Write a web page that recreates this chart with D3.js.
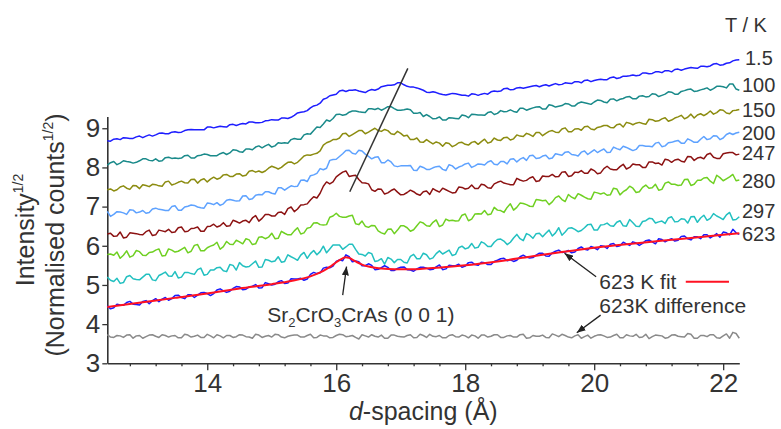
<!DOCTYPE html>
<html>
<head>
<meta charset="utf-8">
<script src="https://cdn.jsdelivr.net/npm/d3@7"></script>
<style>
  html, body { margin: 0; padding: 0; background: #fff; }
  svg { display: block; font-family: "Liberation Sans", Arial, Helvetica, sans-serif; }
</style>
</head>
<body>
<svg id="chart" width="781" height="429"></svg>
<script>
// Sampling grid: d-spacing in Å, 0.05 Å steps from 12.45 to 22.25
const dSpacing = d3.range(197).map(i => +(12.45 + 0.05 * i).toFixed(2));

// Temperatures (K) labelled at the right-hand end of each trace
const temperatures = ["1.5", "100", "150", "200", "247", "280", "297", "623"];

// Square-root intensities, offset per temperature
const int1_5K = [
  8.68,8.67,8.72,8.73,8.71,8.76,8.75,8.74,8.74,8.78,8.80,8.76,8.80,8.83,8.80,8.83,8.87,8.88,8.86,8.86,
  8.90,8.91,8.89,8.90,8.94,8.96,8.97,8.96,8.96,8.96,8.96,9.03,9.03,9.01,9.03,9.05,9.04,9.03,9.09,9.10,
  9.07,9.10,9.12,9.11,9.16,9.16,9.14,9.14,9.15,9.19,9.20,9.22,9.21,9.21,9.26,9.26,9.25,9.28,9.33,9.39,
  9.41,9.42,9.45,9.52,9.57,9.59,9.64,9.74,9.77,9.83,9.85,9.87,9.95,9.97,9.94,9.97,9.97,9.98,9.95,9.93,
  9.91,9.96,9.99,9.97,10.00,10.06,10.08,10.10,10.10,10.11,10.16,10.16,10.11,10.07,10.05,10.05,10.03,10.00,9.97,9.92,
  9.91,9.93,9.91,9.88,9.86,9.85,9.87,9.89,9.88,9.86,9.84,9.84,9.82,9.88,9.87,9.84,9.87,9.89,9.87,9.93,
  9.95,9.94,9.95,10.01,10.02,9.98,9.99,10.03,10.04,10.02,10.04,10.06,10.08,10.09,10.06,10.09,10.11,10.08,10.11,10.14,
  10.11,10.12,10.16,10.15,10.14,10.19,10.19,10.16,10.22,10.23,10.19,10.22,10.24,10.25,10.24,10.24,10.29,10.31,10.27,10.29,
  10.33,10.33,10.34,10.36,10.34,10.35,10.41,10.41,10.39,10.40,10.44,10.44,10.42,10.47,10.47,10.44,10.50,10.51,10.48,10.51,
  10.53,10.55,10.54,10.53,10.58,10.58,10.57,10.59,10.64,10.65,10.61,10.62,10.66,10.67,10.72,10.74,10.75];

const int100K = [
  8.06,8.12,8.15,8.07,8.11,8.17,8.15,8.14,8.11,8.13,8.17,8.22,8.22,8.18,8.17,8.22,8.16,8.17,8.25,8.26,
  8.23,8.24,8.23,8.24,8.30,8.31,8.24,8.24,8.30,8.31,8.34,8.33,8.30,8.30,8.30,8.35,8.38,8.33,8.37,8.45,
  8.44,8.40,8.39,8.47,8.47,8.45,8.52,8.55,8.50,8.55,8.59,8.52,8.55,8.63,8.62,8.63,8.62,8.71,8.74,8.72,
  8.72,8.83,8.86,8.85,8.94,9.03,9.02,9.11,9.21,9.18,9.25,9.35,9.36,9.33,9.35,9.41,9.44,9.44,9.42,9.41,
  9.40,9.50,9.50,9.48,9.51,9.46,9.50,9.55,9.55,9.50,9.46,9.46,9.47,9.49,9.47,9.38,9.38,9.40,9.30,9.35,
  9.30,9.24,9.25,9.29,9.21,9.21,9.27,9.26,9.25,9.24,9.34,9.32,9.27,9.36,9.35,9.34,9.34,9.33,9.40,9.42,
  9.35,9.38,9.45,9.42,9.43,9.47,9.43,9.41,9.51,9.51,9.46,9.49,9.52,9.54,9.55,9.49,9.49,9.60,9.58,9.54,
  9.56,9.58,9.63,9.62,9.57,9.57,9.64,9.67,9.65,9.63,9.61,9.67,9.72,9.71,9.67,9.65,9.74,9.75,9.70,9.74,
  9.76,9.80,9.81,9.75,9.75,9.82,9.83,9.80,9.81,9.88,9.87,9.81,9.84,9.87,9.93,9.92,9.87,9.87,9.94,9.96,
  9.99,10.00,9.94,9.95,9.98,10.00,10.03,9.97,10.01,10.07,10.07,10.06,10.03,10.13,10.13,10.00,9.97];

const int150K = [
  7.43,7.45,7.40,7.43,7.50,7.53,7.47,7.44,7.54,7.53,7.46,7.56,7.54,7.51,7.57,7.56,7.53,7.52,7.63,7.65,
  7.55,7.58,7.62,7.65,7.61,7.60,7.69,7.70,7.60,7.68,7.71,7.63,7.70,7.75,7.70,7.73,7.81,7.82,7.77,7.77,
  7.83,7.84,7.78,7.80,7.90,7.92,7.88,7.91,7.87,7.91,7.98,8.03,8.00,7.96,8.00,8.07,8.13,8.14,8.09,8.13,
  8.21,8.29,8.32,8.31,8.34,8.36,8.42,8.57,8.63,8.66,8.71,8.71,8.75,8.86,8.87,8.79,8.84,8.89,8.94,8.94,
  8.86,8.90,8.95,9.00,8.94,8.92,8.97,8.94,8.86,8.84,8.92,8.87,8.80,8.82,8.71,8.71,8.75,8.65,8.64,8.71,
  8.65,8.60,8.65,8.62,8.54,8.63,8.61,8.53,8.57,8.63,8.64,8.59,8.57,8.64,8.66,8.59,8.66,8.72,8.62,8.65,
  8.75,8.70,8.69,8.76,8.77,8.70,8.73,8.83,8.80,8.79,8.87,8.84,8.79,8.89,8.89,8.81,8.87,8.92,8.94,8.90,
  8.89,8.98,9.01,8.91,8.91,8.98,8.99,8.95,9.04,9.05,8.98,8.96,9.02,9.04,9.07,9.07,9.02,9.01,9.09,9.11,
  9.03,9.15,9.13,9.09,9.13,9.15,9.12,9.10,9.23,9.22,9.18,9.19,9.24,9.27,9.18,9.21,9.26,9.29,9.33,9.24,
  9.28,9.36,9.26,9.34,9.37,9.32,9.37,9.44,9.36,9.40,9.47,9.46,9.39,9.37,9.45,9.46,9.48];

const int200K = [
  6.88,6.75,6.80,6.87,6.86,6.84,6.80,6.92,6.91,6.84,6.86,6.90,6.83,6.85,6.94,6.96,6.93,6.92,6.90,6.90,
  7.00,7.02,6.91,6.91,6.99,7.01,7.04,7.03,6.99,6.97,6.96,7.09,7.08,7.05,7.10,7.03,7.07,7.16,7.18,7.16,
  7.14,7.15,7.27,7.28,7.18,7.20,7.29,7.31,7.30,7.38,7.38,7.34,7.32,7.48,7.48,7.42,7.48,7.53,7.51,7.52,
  7.67,7.68,7.64,7.79,7.81,7.85,7.97,7.94,7.98,8.18,8.20,8.21,8.28,8.35,8.43,8.44,8.36,8.34,8.44,8.42,
  8.34,8.28,8.22,8.26,8.27,8.12,8.12,8.19,8.14,8.04,8.02,8.04,8.04,8.04,8.05,7.93,7.92,8.03,8.00,7.95,
  7.95,7.99,8.02,8.03,7.95,7.92,8.07,8.04,7.96,8.01,8.04,8.09,8.11,8.00,8.04,8.09,8.08,8.06,8.14,8.17,
  8.08,8.07,8.15,8.15,8.09,8.21,8.22,8.14,8.21,8.25,8.18,8.30,8.31,8.23,8.24,8.29,8.31,8.22,8.24,8.35,
  8.33,8.31,8.39,8.40,8.33,8.32,8.29,8.39,8.42,8.33,8.39,8.45,8.38,8.43,8.47,8.38,8.39,8.52,8.48,8.45,
  8.54,8.51,8.47,8.43,8.46,8.56,8.56,8.54,8.54,8.53,8.62,8.64,8.53,8.55,8.63,8.64,8.67,8.69,8.62,8.62,
  8.73,8.69,8.64,8.64,8.72,8.79,8.71,8.73,8.81,8.80,8.71,8.75,8.84,8.88,8.84,8.88,8.90];

const int247K = [
  6.30,6.32,6.24,6.25,6.35,6.20,6.22,6.33,6.32,6.31,6.29,6.28,6.36,6.40,6.26,6.28,6.40,6.38,6.36,6.42,
  6.34,6.35,6.46,6.48,6.36,6.37,6.44,6.45,6.48,6.37,6.37,6.49,6.50,6.55,6.48,6.51,6.59,6.50,6.51,6.65,
  6.62,6.58,6.63,6.65,6.59,6.71,6.77,6.63,6.70,6.80,6.80,6.76,6.76,6.85,6.86,6.80,6.95,6.99,6.87,6.94,
  7.04,7.05,7.07,7.17,7.25,7.22,7.34,7.52,7.63,7.58,7.63,7.76,7.82,7.88,7.91,7.77,7.79,7.80,7.69,7.61,
  7.60,7.58,7.43,7.39,7.45,7.44,7.32,7.35,7.41,7.45,7.37,7.30,7.31,7.36,7.42,7.38,7.32,7.29,7.38,7.40,
  7.31,7.46,7.41,7.37,7.47,7.43,7.39,7.35,7.36,7.50,7.49,7.45,7.47,7.55,7.46,7.46,7.57,7.55,7.48,7.47,
  7.58,7.62,7.65,7.60,7.58,7.56,7.56,7.72,7.68,7.65,7.67,7.73,7.76,7.64,7.66,7.78,7.77,7.77,7.82,7.76,
  7.77,7.88,7.89,7.77,7.79,7.88,7.87,7.92,7.85,7.85,7.96,7.92,7.84,7.86,7.97,8.03,7.96,7.94,7.94,8.02,
  8.08,7.96,8.00,8.09,8.07,8.07,8.00,8.00,8.14,8.14,8.10,8.11,8.06,8.21,8.19,8.13,8.19,8.21,8.16,8.14,
  8.28,8.27,8.18,8.24,8.26,8.22,8.33,8.36,8.26,8.23,8.23,8.35,8.37,8.38,8.38,8.32,8.34];

const int280K = [
  5.78,5.79,5.76,5.84,5.68,5.76,5.87,5.71,5.75,5.88,5.85,5.76,5.75,5.83,5.84,5.89,5.92,5.74,5.75,5.92,
  5.89,5.84,5.86,5.91,5.96,5.82,5.86,6.01,6.03,5.87,5.87,5.95,5.99,6.02,6.09,5.91,5.98,6.11,6.04,6.03,
  6.14,6.10,6.05,6.18,6.15,6.03,6.05,6.22,6.23,6.18,6.22,6.32,6.18,6.19,6.37,6.32,6.28,6.28,6.38,6.46,
  6.30,6.33,6.45,6.47,6.58,6.59,6.54,6.53,6.54,6.73,6.76,6.83,6.75,6.73,6.73,6.76,6.78,6.56,6.54,6.63,
  6.50,6.47,6.52,6.51,6.38,6.33,6.30,6.42,6.43,6.31,6.40,6.51,6.51,6.46,6.37,6.41,6.51,6.61,6.58,6.51,
  6.50,6.60,6.66,6.49,6.53,6.68,6.64,6.65,6.63,6.64,6.78,6.81,6.64,6.68,6.81,6.82,6.81,6.90,6.79,6.81,
  6.98,6.91,6.90,6.85,6.98,7.07,6.91,6.98,7.09,7.08,7.05,7.01,7.00,7.18,7.17,7.15,7.16,7.05,7.12,7.23,
  7.27,7.18,7.13,7.31,7.24,7.20,7.33,7.29,7.24,7.20,7.19,7.37,7.35,7.32,7.35,7.29,7.30,7.47,7.45,7.30,
  7.38,7.43,7.52,7.47,7.36,7.38,7.49,7.55,7.47,7.48,7.57,7.42,7.44,7.60,7.63,7.57,7.57,7.54,7.55,7.69,
  7.70,7.54,7.57,7.67,7.67,7.73,7.74,7.65,7.59,7.80,7.74,7.66,7.71,7.76,7.82,7.66,7.68];

const int297K = [
  5.20,5.12,5.09,5.17,5.04,5.06,5.21,5.24,5.16,5.14,5.13,5.20,5.27,5.27,5.13,5.11,5.24,5.28,5.33,5.23,
  5.22,5.34,5.18,5.20,5.32,5.32,5.29,5.27,5.39,5.43,5.25,5.27,5.38,5.38,5.44,5.45,5.36,5.34,5.52,5.50,
  5.38,5.57,5.49,5.46,5.47,5.54,5.61,5.45,5.46,5.65,5.63,5.59,5.61,5.72,5.58,5.60,5.77,5.72,5.68,5.63,
  5.76,5.83,5.68,5.80,5.88,5.77,5.85,5.99,5.82,5.92,6.02,6.02,6.02,5.91,5.97,6.04,6.04,5.91,5.79,5.78,
  5.74,5.83,5.80,5.60,5.62,5.67,5.53,5.70,5.66,5.57,5.65,5.65,5.58,5.56,5.73,5.78,5.67,5.67,5.81,5.77,
  5.66,5.69,5.80,5.87,5.79,5.84,5.89,5.75,5.78,5.95,5.99,5.92,5.95,6.06,5.94,5.96,6.10,6.06,5.98,5.98,
  6.09,6.16,6.17,6.12,6.03,6.09,6.20,6.29,6.18,6.13,6.31,6.27,6.19,6.31,6.32,6.23,6.32,6.40,6.25,6.33,
  6.46,6.27,6.35,6.45,6.46,6.42,6.36,6.39,6.46,6.54,6.55,6.40,6.40,6.53,6.54,6.58,6.51,6.50,6.60,6.64,
  6.51,6.50,6.67,6.59,6.50,6.49,6.62,6.64,6.70,6.69,6.58,6.61,6.63,6.57,6.71,6.74,6.61,6.62,6.69,6.68,
  6.58,6.74,6.75,6.60,6.71,6.78,6.65,6.70,6.82,6.76,6.72,6.67,6.79,6.85,6.66,6.67,6.74];

const int623K = [
  4.47,4.39,4.42,4.51,4.49,4.48,4.55,4.58,4.51,4.50,4.49,4.58,4.60,4.52,4.60,4.65,4.57,4.64,4.68,4.61,
  4.65,4.73,4.74,4.68,4.65,4.75,4.75,4.68,4.74,4.80,4.81,4.78,4.73,4.78,4.87,4.90,4.85,4.81,4.84,4.91,
  4.96,4.95,4.88,4.89,4.95,4.97,5.01,4.92,4.93,5.06,5.03,5.00,5.02,5.08,5.11,5.04,5.05,5.16,5.15,5.15,
  5.17,5.12,5.15,5.27,5.32,5.29,5.31,5.43,5.45,5.44,5.48,5.60,5.64,5.62,5.77,5.72,5.59,5.61,5.59,5.49,
  5.49,5.54,5.50,5.39,5.40,5.44,5.49,5.45,5.37,5.37,5.42,5.45,5.46,5.39,5.38,5.35,5.41,5.45,5.45,5.43,
  5.39,5.40,5.46,5.51,5.39,5.41,5.50,5.49,5.49,5.53,5.45,5.48,5.57,5.58,5.52,5.50,5.58,5.57,5.52,5.52,
  5.60,5.63,5.67,5.68,5.62,5.64,5.60,5.63,5.72,5.76,5.71,5.69,5.70,5.76,5.81,5.81,5.74,5.73,5.82,5.86,
  5.89,5.83,5.84,5.88,5.82,5.84,5.93,5.97,5.91,5.89,5.98,5.95,5.90,6.00,5.99,5.93,6.04,6.06,5.98,6.00,
  6.09,6.05,6.01,6.10,6.07,6.01,6.06,6.13,6.15,6.10,6.05,6.18,6.16,6.10,6.15,6.18,6.12,6.14,6.24,6.25,
  6.18,6.15,6.23,6.23,6.18,6.28,6.28,6.20,6.25,6.31,6.22,6.35,6.33,6.28,6.42,6.33,6.29];

// Fitted profile at 623 K
const fit623K_d = [12.45,13.0,13.5,14.0,14.5,15.0,15.3,15.6,15.8,15.9,16.0,16.1,16.15,16.2,16.3,16.4,16.5,
  16.7,16.9,17.1,17.3,17.5,17.8,18.0,18.5,19.0,19.5,20.0,20.5,21.0,21.5,22.0,22.25];
const fit623K = [4.44,4.56,4.67,4.78,4.91,5.02,5.10,5.22,5.36,5.46,5.58,5.68,5.71,5.69,5.60,5.52,5.47,
  5.42,5.40,5.40,5.41,5.43,5.47,5.50,5.60,5.72,5.84,5.95,6.04,6.12,6.20,6.28,6.32];

// Observed minus fitted at 623 K, shown offset
const diff623K = [
  3.73,3.67,3.66,3.71,3.70,3.66,3.72,3.73,3.64,3.70,3.71,3.64,3.68,3.72,3.73,3.69,3.66,3.73,3.71,3.67,
  3.70,3.71,3.65,3.65,3.74,3.72,3.67,3.69,3.72,3.66,3.66,3.74,3.70,3.65,3.73,3.70,3.65,3.71,3.71,3.66,
  3.68,3.73,3.72,3.68,3.67,3.64,3.74,3.72,3.66,3.69,3.71,3.67,3.74,3.73,3.67,3.65,3.69,3.71,3.72,3.72,
  3.67,3.67,3.71,3.74,3.65,3.66,3.72,3.70,3.70,3.65,3.66,3.71,3.74,3.73,3.68,3.69,3.71,3.66,3.62,3.73,
  3.70,3.67,3.73,3.69,3.67,3.72,3.64,3.64,3.72,3.72,3.69,3.68,3.67,3.71,3.73,3.65,3.66,3.74,3.71,3.66,
  3.74,3.69,3.68,3.71,3.65,3.65,3.71,3.73,3.68,3.67,3.72,3.70,3.65,3.72,3.70,3.64,3.72,3.72,3.67,3.69,
  3.73,3.73,3.66,3.66,3.70,3.71,3.67,3.67,3.73,3.74,3.64,3.65,3.71,3.69,3.69,3.72,3.66,3.65,3.75,3.72,
  3.68,3.74,3.71,3.67,3.65,3.70,3.73,3.64,3.68,3.72,3.64,3.69,3.72,3.73,3.70,3.66,3.67,3.71,3.74,3.65,
  3.65,3.73,3.70,3.69,3.74,3.66,3.67,3.74,3.63,3.68,3.72,3.71,3.70,3.64,3.66,3.72,3.73,3.69,3.68,3.67,
  3.76,3.74,3.64,3.64,3.71,3.71,3.68,3.73,3.73,3.65,3.64,3.70,3.75,3.64,3.79,3.76,3.64];

// Axis ticks
const xTicks = [14, 16, 18, 20, 22];
const xMinorTicks = [12.8,13.2,13.6,14.4,14.8,15.2,15.6,16.4,16.8,17.2,17.6,18.4,18.8,19.2,19.6,20.4,20.8,21.2,21.6];
const yTicks = [3, 4, 5, 6, 7, 8, 9];

// Guide through the shifting (0 0 1) maximum: [d, value] end points
const shiftGuide = [[17.11, 10.53], [16.21, 7.38]];

// ---------------------------------------------------------------
const series = [
  { t: "1.5", values: int1_5K, color: "#1e1eff" },
  { t: "100", values: int100K, color: "#1a8a8a" },
  { t: "150", values: int150K, color: "#8c8c10" },
  { t: "200", values: int200K, color: "#5ea2ff" },
  { t: "247", values: int247K, color: "#8c1212" },
  { t: "280", values: int280K, color: "#6fd022" },
  { t: "297", values: int297K, color: "#22c0c0" },
  { t: "623", values: int623K, color: "#1a1aff" }
];
const labelBaselines = { "1.5": 65, "100": 92, "150": 117, "200": 140, "247": 160, "280": 188, "297": 218, "623": 241 };

const ink = "#333";
const svg = d3.select("#chart");

const x = d3.scaleLinear().domain([12.45, 22.25]).range([107.3, 739.3]);
const y = d3.scaleLinear().domain([3, 9.3]).range([363.3, 116.5]);

svg.append("defs").append("marker")
  .attr("id", "arrow")
  .attr("viewBox", "0 0 10 8")
  .attr("refX", 10).attr("refY", 4)
  .attr("markerUnits", "userSpaceOnUse")
  .attr("markerWidth", 9).attr("markerHeight", 7)
  .attr("orient", "auto")
  .append("path").attr("d", "M0,0L10,4L0,8Z").attr("fill", "#222");

// Axes
svg.append("g")
  .attr("transform", `translate(0,${y(3)})`)
  .call(d3.axisBottom(x).tickValues(xTicks).tickSize(7).tickSizeOuter(0).tickPadding(3).tickFormat(d3.format("d")));
svg.append("g")
  .attr("transform", `translate(0,${y(3)})`)
  .call(d3.axisBottom(x).tickValues(xMinorTicks).tickSize(3).tickSizeOuter(0).tickFormat(""))
  .call(g => g.select(".domain").remove());
svg.append("g")
  .attr("transform", `translate(${x(12.45)},0)`)
  .call(d3.axisLeft(y).tickValues(yTicks).tickSize(5).tickSizeOuter(0).tickPadding(2).tickFormat(d3.format("d")));

svg.selectAll(".domain").attr("stroke", ink).attr("stroke-width", 1.6);
svg.selectAll(".tick line").attr("stroke", ink).attr("stroke-width", 1.3);
svg.selectAll(".tick text").attr("fill", ink).attr("font-size", 26)
  .attr("font-family", "'Liberation Sans', Arial, sans-serif");

// Traces
const line = d3.line()
  .defined((v, i) => i < dSpacing.length)
  .x((v, i) => x(dSpacing[i])).y(v => y(v));
series.forEach(s => {
  svg.append("path")
    .attr("d", line(s.values))
    .attr("fill", "none")
    .attr("stroke", s.color)
    .attr("stroke-width", 1.5)
    .attr("stroke-linejoin", "round");
});

svg.append("path")
  .attr("d", line(diff623K))
  .attr("fill", "none")
  .attr("stroke", "#8a8a8a")
  .attr("stroke-width", 1.5)
  .attr("stroke-linejoin", "round");

const fitLine = d3.line().curve(d3.curveMonotoneX)
  .x((v, i) => x(fit623K_d[i])).y(v => y(v));
svg.append("path")
  .attr("d", fitLine(fit623K))
  .attr("fill", "none")
  .attr("stroke", "#ff1222")
  .attr("stroke-width", 2);

// Peak-shift guide
svg.append("line")
  .attr("x1", x(shiftGuide[0][0])).attr("y1", y(shiftGuide[0][1]))
  .attr("x2", x(shiftGuide[1][0])).attr("y2", y(shiftGuide[1][1]))
  .attr("stroke", "#333").attr("stroke-width", 1.5);

// Temperature labels
const labels = svg.append("g").attr("fill", ink).attr("font-size", 20);
labels.append("text").attr("x", 725).attr("y", 32).text("T / K");
series.forEach(s => {
  labels.append("text").attr("x", s.t === "1.5" ? 745 : 742).attr("y", labelBaselines[s.t]).text(s.t);
});

// Annotations
const ann = svg.append("g").attr("fill", ink).attr("font-size", 21);
function arrow(d0, v0, d1, v1) {
  svg.append("line")
    .attr("x1", x(d0)).attr("y1", y(v0)).attr("x2", x(d1)).attr("y2", y(v1))
    .attr("stroke", "#222").attr("stroke-width", 1.3)
    .attr("marker-end", "url(#arrow)");
}

const peakLabel = ann.append("text").attr("x", x(14.93)).attr("y", y(4.06));
peakLabel.append("tspan").text("Sr");
peakLabel.append("tspan").attr("font-size", 13).attr("dy", 5).text("2");
peakLabel.append("tspan").attr("dy", -5).text("CrO");
peakLabel.append("tspan").attr("font-size", 13).attr("dy", 5).text("3");
peakLabel.append("tspan").attr("dy", -5).text("CrAs (0 0 1)");
arrow(16.10, 4.74, 16.16, 5.47);

ann.append("text").attr("x", x(20.08)).attr("y", y(4.89)).text("623 K fit");
svg.append("line")
  .attr("x1", x(21.42)).attr("x2", x(22.09)).attr("y1", y(5.08)).attr("y2", y(5.08))
  .attr("stroke", "#ff1222").attr("stroke-width", 2);
arrow(20.03, 5.21, 19.54, 5.81);

ann.append("text").attr("x", x(20.08)).attr("y", y(4.28)).text("623K difference");
arrow(20.10, 4.23, 19.73, 3.78);

// Axis titles
const titles = svg.append("g").attr("fill", ink).attr("font-size", 25);
const yt1 = titles.append("text").attr("transform", "translate(34,230) rotate(-90)").attr("text-anchor", "middle");
yt1.append("tspan").text("Intensity");
yt1.append("tspan").attr("font-size", 14).attr("dy", -11).text("1/2");
const yt2 = titles.append("text").attr("transform", "translate(64,235) rotate(-90)").attr("text-anchor", "middle");
yt2.append("tspan").text("(Normalised counts");
yt2.append("tspan").attr("font-size", 14).attr("dy", -11).text("1/2");
yt2.append("tspan").attr("dy", 11).text(")");

const xt = titles.append("text").attr("x", (x.range()[0] + x.range()[1]) / 2).attr("y", 420).attr("text-anchor", "middle");
xt.append("tspan").attr("font-style", "italic").text("d");
xt.append("tspan").text("-spacing (Å)");
</script>
</body>
</html>
